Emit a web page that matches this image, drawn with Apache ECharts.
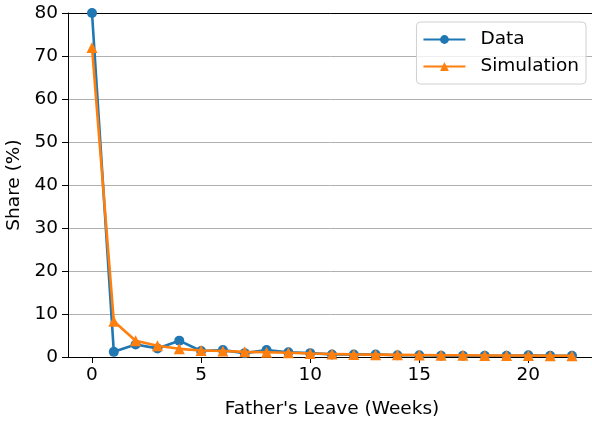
<!DOCTYPE html>
<html>
<head>
<meta charset="utf-8">
<script src="https://cdn.jsdelivr.net/npm/echarts@6/dist/echarts.min.js"></script>
<style>html,body{margin:0;padding:0;background:#fff}#c{width:592px;height:424px}</style>
</head>
<body>
<div id="c"></div>
<script>
const weeks = [0,1,2,3,4,5,6,7,8,9,10,11,12,13,14,15,16,17,18,19,20,21,22];
const dataShare = [80,1.2,2.9,2.0,3.8,1.4,1.6,0.9,1.6,1.1,0.9,0.6,0.6,0.6,0.4,0.4,0.3,0.3,0.3,0.3,0.4,0.3,0.3];
const simShare  = [72,8.3,3.8,2.6,1.9,1.5,1.4,1.2,1.1,1.0,0.8,0.7,0.6,0.55,0.5,0.45,0.4,0.4,0.35,0.35,0.35,0.3,0.3];
const xTicks = [0,5,10,15,20];
const yTicks = [0,10,20,30,40,50,60,70,80];

const font = 'DejaVu Sans';
const fs = 18.5;
const chart = echarts.init(document.getElementById('c'), null, {renderer:'canvas'});
chart.setOption({
  animation:false,
  textStyle:{fontFamily:font},
  grid:{left:68, top:13, width:528, height:344, containLabel:false, outerBoundsMode:'none'},
  legend:{
    orient:'vertical', right:6, top:22,
    data:['Data','Simulation'],
    itemWidth:42, itemHeight:11, itemGap:8,
    padding:[8,7,8,6],
    borderColor:'#d0d0d0', borderWidth:1, borderRadius:4,
    backgroundColor:'rgba(255,255,255,0.8)',
    textStyle:{fontFamily:font,fontSize:fs,color:'#000',padding:[0,0,0,10]}
  },
  xAxis:[{
    type:'value', min:-1.1, max:23.1,
    name:"Father's Leave (Weeks)", nameLocation:'middle', nameGap:43,
    nameTextStyle:{fontFamily:font,fontSize:fs,color:'#000'},
    axisLine:{show:true,onZero:false,lineStyle:{color:'#000',width:1}},
    axisTick:{show:true,length:6,customValues:xTicks,lineStyle:{color:'#000'}},
    axisLabel:{customValues:xTicks,fontFamily:font,fontSize:fs,color:'#000',margin:9},
    splitLine:{show:false}
  },{
    type:'value', position:'top', min:-1.1, max:23.1,
    axisLine:{show:true,onZero:false,lineStyle:{color:'#000',width:1}},
    axisTick:{show:false}, axisLabel:{show:false}, splitLine:{show:false}
  }],
  yAxis:{
    type:'value', min:0, max:80, interval:10,
    name:'Share (%)', nameLocation:'middle', nameGap:28,
    nameTextStyle:{fontFamily:font,fontSize:fs,color:'#000'},
    axisLine:{show:true,onZero:false,lineStyle:{color:'#000',width:1}},
    axisTick:{show:true,length:6,lineStyle:{color:'#000'}},
    axisLabel:{fontFamily:font,fontSize:fs,color:'#000',margin:10},
    splitLine:{show:true,lineStyle:{color:'#b0b0b0',width:1}}
  },
  series:[{
    name:'Data', type:'line',
    data:weeks.map((w,i)=>[w,dataShare[i]]),
    symbol:'circle', symbolSize:10, showSymbol:true,
    lineStyle:{color:'#1f77b4',width:2.6}, itemStyle:{color:'#1f77b4'},
    z:2
  },{
    name:'Simulation', type:'line',
    data:weeks.map((w,i)=>[w,simShare[i]]),
    symbol:'triangle', symbolSize:11, showSymbol:true,
    lineStyle:{color:'#ff7f0e',width:2.6}, itemStyle:{color:'#ff7f0e'},
    z:3
  }]
});
</script>
</body>
</html>
